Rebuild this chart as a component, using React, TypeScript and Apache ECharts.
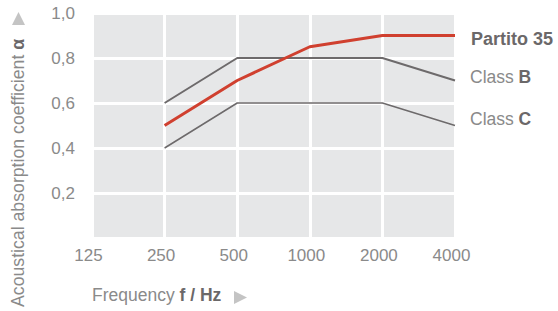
import React, { useEffect, useRef } from "react";
import * as echarts from "echarts";

const categories = ["125", "250", "500", "1000", "2000", "4000"];
const partito35 = [null, 0.5, 0.7, 0.85, 0.9, 0.9];
const classB = [null, 0.6, 0.8, 0.8, 0.8, 0.7];
const classC = [null, 0.4, 0.6, 0.6, 0.6, 0.5];

const FONT = "'Liberation Sans', Arial, sans-serif";
const LIGHT = "#8a8a8a";
const DARK = "#6b6869";

export default function App() {
  const ref = useRef<HTMLDivElement>(null);
  useEffect(() => {
    const chart = echarts.init(ref.current!, null, { renderer: "svg" });
    chart.setOption({
      animation: false,
      textStyle: { fontFamily: FONT },
      grid: {
        left: 92,
        right: 103,
        top: 13,
        bottom: 73,
        show: true,
        backgroundColor: "#e6e7e8",
        borderWidth: 0,
      },
      xAxis: {
        type: "category",
        data: categories,
        boundaryGap: false,
        axisLine: { show: false },
        axisTick: { show: false },
        splitLine: { show: true, lineStyle: { color: "#ffffff", width: 3 } },
        axisLabel: {
          color: LIGHT,
          fontSize: 17,
          margin: 9,
          padding: [0, 7, 0, 0],
          fontFamily: FONT,
        },
      },
      yAxis: {
        type: "value",
        min: 0,
        max: 1,
        interval: 0.2,
        axisLine: { show: false },
        axisTick: { show: false },
        splitLine: { show: true, lineStyle: { color: "#ffffff", width: 3 } },
        axisLabel: {
          color: LIGHT,
          fontSize: 17,
          margin: 17,
          fontFamily: FONT,
          formatter: (v: number) => (v === 0 ? "" : v.toFixed(1).replace(".", ",")),
        },
      },
      series: [
        {
          name: "Class C",
          type: "line",
          data: classC,
          symbol: "none",
          lineStyle: { color: "#6d6a6b", width: 1.5 },
          z: 2,
        },
        {
          name: "Class B",
          type: "line",
          data: classB,
          symbol: "none",
          lineStyle: { color: "#6d6a6b", width: 2 },
          z: 3,
        },
        {
          name: "Partito 35",
          type: "line",
          data: partito35,
          symbol: "none",
          lineStyle: { color: "#d0402f", width: 3 },
          z: 4,
        },
      ],
      graphic: [
        {
          type: "text",
          x: 471,
          y: 39,
          style: {
            text: "Partito 35",
            fill: DARK,
            font: `bold 18px ${FONT}`,
            verticalAlign: "middle",
            align: "left",
          },
        },
        {
          type: "text",
          x: 470,
          y: 77,
          style: {
            text: "{a|Class }{b|B}",
            verticalAlign: "middle",
            align: "left",
            rich: {
              a: { fill: LIGHT, fontSize: 17.5, fontFamily: FONT },
              b: { fill: DARK, fontSize: 17.5, fontWeight: "bold", fontFamily: FONT },
            },
          },
        },
        {
          type: "text",
          x: 470,
          y: 119,
          style: {
            text: "{a|Class }{b|C}",
            verticalAlign: "middle",
            align: "left",
            rich: {
              a: { fill: LIGHT, fontSize: 17.5, fontFamily: FONT },
              b: { fill: DARK, fontSize: 17.5, fontWeight: "bold", fontFamily: FONT },
            },
          },
        },
        {
          type: "text",
          x: 17.5,
          y: 307,
          rotation: Math.PI / 2,
          style: {
            text: "{a|Acoustical absorption coefficient }{b|α}",
            verticalAlign: "middle",
            align: "left",
            rich: {
              a: { fill: LIGHT, fontSize: 17.7, fontFamily: FONT },
              b: { fill: DARK, fontSize: 17.7, fontWeight: "bold", fontFamily: FONT },
            },
          },
        },
        {
          type: "polygon",
          shape: { points: [[12, 25], [25, 25], [18.5, 12]] },
          style: { fill: "#c4c4c4" },
        },
        {
          type: "text",
          x: 92,
          y: 295,
          style: {
            text: "{a|Frequency }{b|f / Hz}",
            verticalAlign: "middle",
            align: "left",
            rich: {
              a: { fill: LIGHT, fontSize: 17.5, fontFamily: FONT },
              b: { fill: DARK, fontSize: 17.5, fontWeight: "bold", fontFamily: FONT },
            },
          },
        },
        {
          type: "polygon",
          shape: { points: [[234, 291], [234, 304], [247, 297.5]] },
          style: { fill: "#c4c4c4" },
        },
      ],
    });
    return () => chart.dispose();
  }, []);
  return (
    <div
      ref={ref}
      style={{ position: "absolute", left: 0, top: 0, width: 558, height: 311 }}
    />
  );
}
